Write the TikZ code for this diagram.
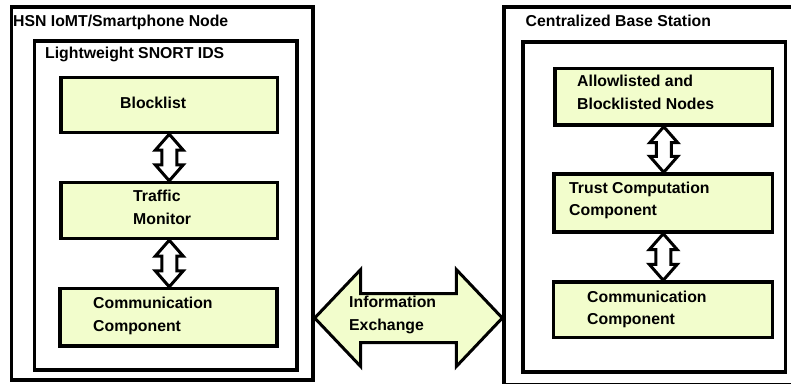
\documentclass[tikz,border=0pt]{standalone}
\usepackage{fontspec}
\setmainfont{Liberation Sans}
\usetikzlibrary{calc}
\definecolor{boxfill}{RGB}{242,253,204}
\tikzset{
  frame/.style={draw=black, line width=3.4pt, inner sep=0pt},
  comp/.style={draw=black, line width=3.4pt, fill=boxfill, inner sep=0pt},
  lbl/.style={anchor=base west, inner sep=0pt, align=left,
              font=\fontsize{15.8}{23}\selectfont\bfseries},
  hollow/.style={draw=black, line width=3pt, fill=white, line join=miter},
  bigarrow/.style={draw=black, line width=3pt, fill=boxfill, line join=miter},
}
% vertical two-way hollow arrow from the bottom of #1 to the top of #2
\newcommand\twoway[2]{%
  \draw[hollow] let \p1=(#1.south), \p2=(#2.north) in
    (\x1,\y1) -- (\x1-14pt,\y1-16pt) -- (\x1-7.5pt,\y1-16pt)
    -- (\x1-7.5pt,\y2+16pt) -- (\x1-14pt,\y2+16pt) -- (\x1,\y2)
    -- (\x1+14pt,\y2+16pt) -- (\x1+7.5pt,\y2+16pt)
    -- (\x1+7.5pt,\y1-16pt) -- (\x1+14pt,\y1-16pt) -- cycle;}
\begin{document}
\begin{tikzpicture}[x=1pt,y=-1pt]
\useasboundingbox (0,0) rectangle (791,383);

% smartphone node
\node[frame, minimum width=301.5pt, minimum height=373pt] (phone) at (162.25,193.5) {};
\node[frame, minimum width=262.5pt, minimum height=329pt] (ids) at (165.75,205.5) {};
\node[comp, minimum width=216.5pt, minimum height=55pt] (block) at (169.25,105) {};
\node[comp, minimum width=216.5pt, minimum height=56pt] (traffic) at (169.25,210.5) {};
\node[comp, minimum width=217pt, minimum height=57.5pt] (commL) at (168.5,317.25) {};

% base station
\node[frame, minimum width=296pt, minimum height=378pt] (base) at (652,196) {};
\node[frame, minimum width=262.5pt, minimum height=330pt] (bsin) at (654.25,207) {};
\node[comp, minimum width=217.5pt, minimum height=56.5pt] (lists) at (663.75,96.75) {};
\node[comp, minimum width=218.5pt, minimum height=58pt] (trust) at (663.25,203) {};
\node[comp, minimum width=219pt, minimum height=55.5pt] (commR) at (663,309.75) {};

% internal links
\twoway{block}{traffic}
\twoway{traffic}{commL}
\twoway{lists}{trust}
\twoway{trust}{commR}

% information exchange arrow between the two sides
\coordinate (xrow) at (0,318);
\draw[bigarrow] let \p1=(phone.east |- xrow), \p2=(base.west |- xrow) in
  (\x1,\y1) -- (\x1+46pt,\y1+48.5pt) -- (\x1+46pt,\y1+24.5pt)
  -- (\x2-46pt,\y1+24.5pt) -- (\x2-46pt,\y1+48.5pt) -- (\x2,\y1)
  -- (\x2-46pt,\y1-48.5pt) -- (\x2-46pt,\y1-24.5pt)
  -- (\x1+46pt,\y1-24.5pt) -- (\x1+46pt,\y1-48.5pt) -- cycle;

% labels (multi-line labels are placed by the baseline of their last line)
\node[lbl] (tphone) at (13,26) {HSN IoMT/Smartphone Node};
\node[lbl] (tids) at (45,58) {Lightweight SNORT IDS};
\node[lbl] (tblock) at (120,108) {Blocklist};
\node[lbl] (ttraffic) at (133,224) {Traffic\\Monitor};
\node[lbl] (tcommL) at (93,331) {Communication\\Component};
\node[lbl] (tinfo) at (349,330.5) {Information\\Exchange};
\node[lbl] (tbase) at (525.5,26) {Centralized Base Station};
\node[lbl, font=\fontsize{15.8}{22.8}\selectfont\bfseries] (tlists) at (577,109) {Allowlisted and\\Blocklisted Nodes};
\node[lbl, font=\fontsize{15.8}{22.5}\selectfont\bfseries] (ttrust) at (569,215.5) {Trust Computation\\Component};
\node[lbl, font=\fontsize{15.8}{22.5}\selectfont\bfseries] (tcommR) at (587,324.5) {Communication\\Component};
\end{tikzpicture}
\end{document}
